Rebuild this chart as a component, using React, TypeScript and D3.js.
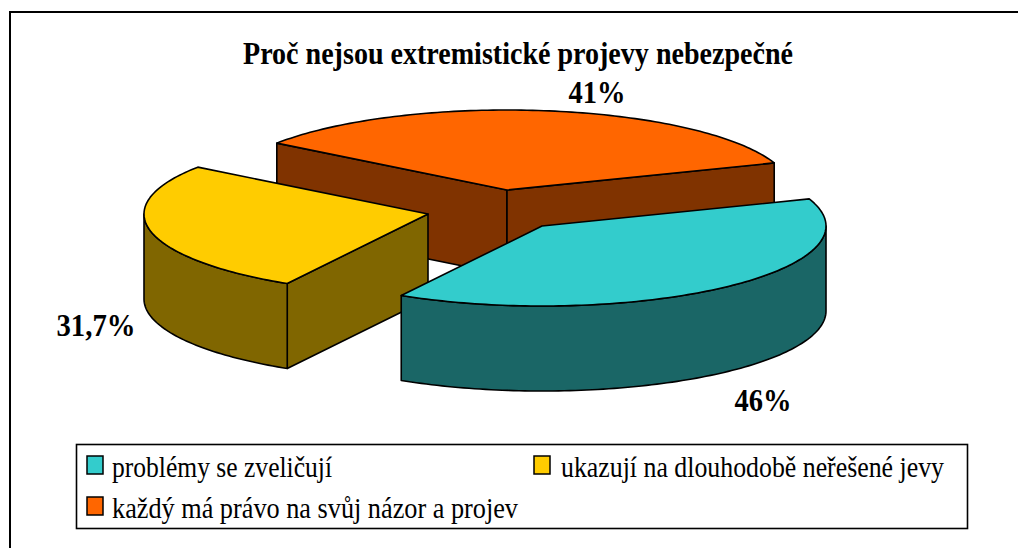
import React from "react";
import * as d3 from "d3";

const W = 1018;
const H = 548;

// Data
const categories = ["problémy se zveličují", "ukazují na dlouhodobě neřešené jevy", "každý má právo na svůj názor a projev"];
const values = [46, 31.7, 41];
const valueLabels = ["46%", "31,7%", "41%"];
const title = "Proč nejsou extremistické projevy nebezpečné";

// Styling + layout
const topColors = ["#33CCCC", "#FFCC00", "#FF6600"];
const sideColors = ["#1A6666", "#806600", "#803300"];
const apexes = [
  [542, 226],
  [428, 214],
  [507, 190],
];
const labelPos = [
  [763, 411],
  [96, 336],
  [597, 103],
];
const labelWidths = [57, 79, 57];
const legendPos = [
  [87, 456, 112, 477],
  [534, 456, 561, 477],
  [87, 497, 112, 518],
];
const legendWidths = [220, 383, 406];
const rx = 284;
const ry = 80;
const depth = 85;
const startDeg = 70.2;
const drawOrder = [2, 1, 0];
const font = "'Liberation Serif', 'Times New Roman', serif";

const pie = d3
  .pie<number>()
  .sort(null)
  .startAngle((startDeg * Math.PI) / 180)
  .endAngle((startDeg * Math.PI) / 180 + 2 * Math.PI);
const arcs = pie(values);

const line = d3.line<[number, number]>();

function rim(i: number, a0: number, a1: number, dy = 0): [number, number][] {
  const [cx, cy] = apexes[i];
  const n = Math.max(2, Math.ceil(Math.abs(a1 - a0) / 0.02));
  return d3.range(n + 1).map((k) => {
    const t = a0 + ((a1 - a0) * k) / n;
    return [cx + rx * Math.sin(t), cy - ry * Math.cos(t) + dy] as [number, number];
  });
}

function radialFace(i: number, t: number): string {
  const [cx, cy] = apexes[i];
  const p = rim(i, t, t)[0];
  return (
    line([
      [cx, cy],
      p,
      [p[0], p[1] + depth],
      [cx, cy + depth],
    ]) + "Z"
  );
}

function wall(i: number, a0: number, a1: number): string | null {
  // outer wall is only visible where the rim faces the viewer: t in [90deg, 270deg] (mod 360)
  const two = 2 * Math.PI;
  const pieces: string[] = [];
  for (let k = -1; k <= 1; k++) {
    const lo = Math.max(a0, Math.PI / 2 + k * two);
    const hi = Math.min(a1, (3 * Math.PI) / 2 + k * two);
    if (hi > lo) {
      const top = rim(i, lo, hi);
      const bot = rim(i, hi, lo, depth);
      pieces.push(line([...top, ...bot])! + "Z");
    }
  }
  return pieces.length ? pieces.join("") : null;
}

function topFace(i: number, a0: number, a1: number): string {
  return line([apexes[i] as [number, number], ...rim(i, a0, a1)])! + "Z";
}

export default function App() {
  return (
    <svg
      width={W}
      height={H}
      viewBox={`0 0 ${W} ${H}`}
      style={{ position: "absolute", left: 0, top: 0, background: "#fff" }}
      fontFamily={font}
    >
      <rect x={10} y={12} width={W + 20} height={H + 20} fill="#fff" stroke="#000" strokeWidth={2} />
      <text x={243} y={64} fontWeight="bold" fontSize={31} textLength={550} lengthAdjust="spacingAndGlyphs">
        {title}
      </text>
      {drawOrder.map((i) => {
        const a = arcs[i];
        const w = wall(i, a.startAngle, a.endAngle);
        return (
          <g key={i} stroke="#000" strokeWidth={1.6} strokeLinejoin="round">
            {Math.sin(a.startAngle) < 0 && <path d={radialFace(i, a.startAngle)} fill={sideColors[i]} />}
            {Math.sin(a.endAngle) > 0 && <path d={radialFace(i, a.endAngle)} fill={sideColors[i]} />}
            {w && <path d={w} fill={sideColors[i]} />}
            <path d={topFace(i, a.startAngle, a.endAngle)} fill={topColors[i]} />
          </g>
        );
      })}
      {valueLabels.map((s, i) => (
        <text
          key={s}
          x={labelPos[i][0] - labelWidths[i] / 2}
          y={labelPos[i][1]}
          fontWeight="bold"
          fontSize={31}
          textLength={labelWidths[i]}
          lengthAdjust="spacingAndGlyphs"
        >
          {s}
        </text>
      ))}
      <rect x={76.5} y={444.5} width={891} height={84} fill="#fff" stroke="#000" strokeWidth={1.6} />
      {categories.map((c, i) => (
        <g key={c}>
          <rect
            x={legendPos[i][0]}
            y={legendPos[i][1]}
            width={16}
            height={18}
            fill={topColors[i]}
            stroke="#000"
            strokeWidth={1.5}
          />
          <text
            x={legendPos[i][2]}
            y={legendPos[i][3]}
            fontSize={29}
            textLength={legendWidths[i]}
            lengthAdjust="spacingAndGlyphs"
          >
            {c}
          </text>
        </g>
      ))}
    </svg>
  );
}
